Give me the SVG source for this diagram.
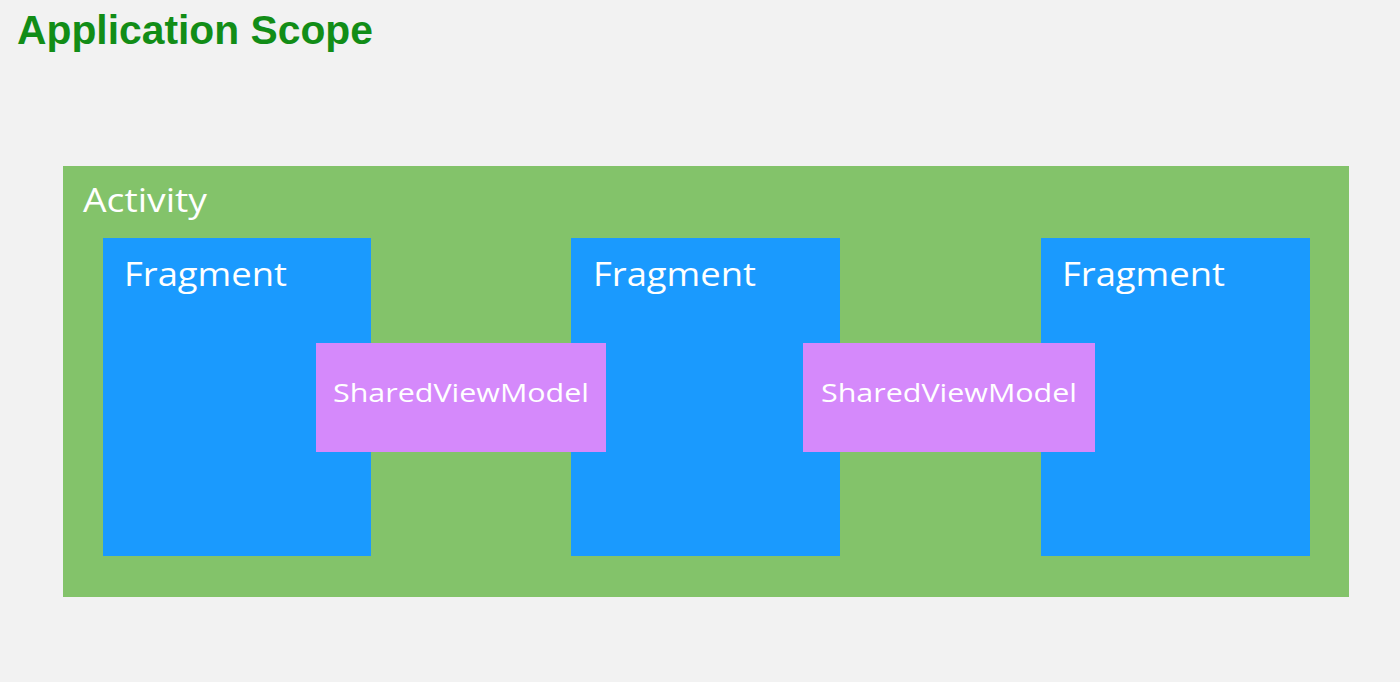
<svg xmlns="http://www.w3.org/2000/svg" width="1400" height="682" viewBox="0 0 1400 682">
<style>
.t{font-family:"Open Sans","Liberation Sans",sans-serif;fill:#ffffff;font-weight:500}
.frag{fill:#1a9afe}
.svm{fill:#d589fb}
</style>
<rect x="0" y="0" width="1400" height="682" fill="#f2f2f2"/>
<text x="17" y="44" font-family="'Liberation Sans',Arial,sans-serif" font-weight="bold" font-size="40" fill="#128d17" textLength="356" lengthAdjust="spacingAndGlyphs">Application Scope</text>
<g id="activity">
<rect x="63" y="166" width="1286" height="431" fill="#83c36a"/>
<text class="t" x="83" y="212" font-size="32" textLength="124" lengthAdjust="spacingAndGlyphs">Activity</text>
</g>
<g id="fragment1">
<rect class="frag" x="103" y="238" width="268" height="318"/>
<text class="t" x="124" y="286" font-size="33" textLength="163" lengthAdjust="spacingAndGlyphs">Fragment</text>
</g>
<g id="fragment2">
<rect class="frag" x="571" y="238" width="269" height="318"/>
<text class="t" x="593" y="286" font-size="33" textLength="163" lengthAdjust="spacingAndGlyphs">Fragment</text>
</g>
<g id="fragment3">
<rect class="frag" x="1041" y="238" width="269" height="318"/>
<text class="t" x="1062" y="286" font-size="33" textLength="163" lengthAdjust="spacingAndGlyphs">Fragment</text>
</g>
<g id="svm1">
<rect class="svm" x="316" y="343" width="290" height="109"/>
<text class="t" x="333" y="402" font-size="26" textLength="256" lengthAdjust="spacingAndGlyphs">SharedViewModel</text>
</g>
<g id="svm2">
<rect class="svm" x="803" y="343" width="292" height="109"/>
<text class="t" x="821" y="402" font-size="26" textLength="256" lengthAdjust="spacingAndGlyphs">SharedViewModel</text>
</g>
<g id="connectors"></g>
</svg>
